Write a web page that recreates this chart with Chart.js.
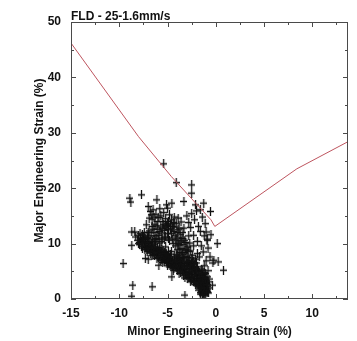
<!DOCTYPE html>
<html>
<head>
<meta charset="utf-8">
<script src="https://cdn.jsdelivr.net/npm/chart.js@4/dist/chart.umd.min.js"></script>
<style>
  html, body { margin: 0; padding: 0; background: #fff; }
  #wrap { width: 357px; height: 341px; }
</style>
</head>
<body>
<div id="wrap"><canvas id="c" width="357" height="341"></canvas></div>
<script>
// Forming limit curve (minor / major engineering strain, %)
const fldMinor = [-15, -8.0, -4.6, -0.5, -0.1, 8.4, 13.7];
const fldMajor = [46.2, 29.3, 22.1, 14.3, 13.1, 23.5, 28.4];

// Measured grid strains as [minor, major] pairs, grouped by region of the cloud
const lowerBand = [
  [-8.3,11.2],[-8.1,10.6],[-8.0,11.5],[-7.9,10.2],[-7.8,11.0],[-7.7,10.4],[-7.6,9.8],[-7.5,10.8],[-7.4,9.6],[-7.3,10.3],
  [-7.2,9.3],[-7.1,10.0],[-7.0,9.7],[-6.9,8.9],[-6.8,9.5],[-6.7,10.1],[-6.6,8.7],[-6.5,9.2],[-6.4,8.4],[-6.3,9.0],
  [-6.2,8.1],[-6.1,8.8],[-6.0,7.9],[-5.9,8.6],[-5.8,7.6],[-5.7,8.3],[-5.6,9.0],[-5.5,7.4],[-5.4,8.0],[-5.3,7.1],
  [-5.2,7.8],[-5.1,6.9],[-5.0,7.5],[-4.9,6.6],[-4.8,7.3],[-4.7,8.1],[-4.6,6.4],[-4.5,7.0],[-4.4,6.1],[-4.3,6.8],
  [-4.2,5.8],[-4.1,6.5],[-4.0,5.5],[-3.9,6.2],[-3.8,7.0],[-3.7,5.3],[-3.6,5.9],[-3.5,4.9],[-3.4,5.6],[-3.3,4.6],
  [-3.2,5.3],[-3.1,6.1],[-3.0,4.3],[-2.9,5.0],[-2.8,3.9],[-2.7,4.7],[-2.6,5.5],[-2.5,3.6],[-2.4,4.4],[-2.3,3.2],
  [-2.2,4.0],[-2.1,4.9],[-2.0,2.9],[-1.9,3.7],[-1.8,2.6],[-1.7,3.4],[-1.6,4.3],[-1.5,2.2],[-1.4,3.0],[-1.3,1.8],
  [-1.2,2.6],[-1.1,3.5],[-1.0,1.5],[-0.9,2.3],[-0.8,3.1],[-0.7,2.0],[-1.25,0.8],[-1.3,1.2],
  [-7.9,9.8],[-7.6,10.9],[-7.3,9.5],[-7.0,10.4],[-6.8,8.6],[-6.5,8.0],[-6.3,9.8],[-6.0,8.5],[-5.8,9.2],[-5.6,7.2],
  [-5.3,8.4],[-5.1,7.6],[-4.9,8.6],[-4.7,6.9],[-4.5,5.9],[-4.3,7.6],[-4.1,5.6],[-3.9,7.4],[-3.7,6.4],[-3.5,5.6],
  [-3.3,7.2],[-3.1,4.8],[-2.9,6.4],[-2.7,3.8],[-2.5,5.0],[-2.4,6.3],[-2.2,3.4],[-2.0,4.5],[-1.9,5.8],[-1.8,3.1],
  [-1.6,2.7],[-1.5,3.8],[-1.4,5.1],[-1.3,2.4],[-1.2,3.9],[-1.1,1.6],[-1.0,2.8],[-0.9,4.0],[-0.85,1.4],[-1.5,1.6],
  [-1.7,2.0],[-2.1,2.6],[-2.6,3.1],[-3.2,3.8],[-3.8,4.6],[-4.4,5.2],[-5.0,6.0],[-5.5,6.6],[-6.1,7.3],[-6.6,7.9],
  [-7.1,8.6],[-7.6,9.2],
  [-8.0,10.0],[-7.85,11.8],[-7.7,9.5],[-7.55,10.5],[-7.45,11.2],[-7.35,8.9],[-7.25,10.7],[-7.15,9.0],[-7.05,10.9],[-6.95,9.2],
  [-6.85,10.2],[-6.75,8.3],[-6.65,9.6],[-6.55,10.4],[-6.45,8.6],[-6.35,7.9],[-6.25,9.4],[-6.15,8.4],[-6.05,9.3],[-5.95,7.5],
  [-5.85,8.9],[-5.75,7.0],[-5.65,8.6],[-5.55,7.9],[-5.45,8.7],[-5.35,6.8],[-5.25,7.4],[-5.15,8.2],[-5.05,6.4],[-4.95,7.9],
  [-4.85,7.0],[-4.75,6.1],[-4.65,7.6],[-4.55,5.7],[-4.45,6.6],[-4.35,5.5],[-4.25,7.2],[-4.15,6.0],[-4.05,6.9],[-3.95,5.1],
  [-3.85,5.8],[-3.75,6.6],[-3.65,4.7],[-3.55,6.3],[-3.45,5.2],[-3.35,4.2],[-3.25,5.9],[-3.15,4.5],[-3.05,5.5],[-2.95,3.7],
  [-2.85,4.6],[-2.75,5.9],[-2.65,4.1],[-2.55,3.3],[-2.45,4.9],[-2.35,3.7],[-2.25,5.2],[-2.15,3.0],[-2.05,4.1],[-1.95,2.5],
  [-1.85,4.4],[-1.75,3.0],[-1.65,2.3],[-1.55,3.5],[-1.45,2.7],[-1.35,3.6],[-1.25,1.5],[-1.15,2.9],[-1.05,2.0],[-0.95,3.0],
  [-0.9,1.2],[-1.2,4.8],[-1.4,4.2],[-1.8,5.0],[-2.3,5.9],[-2.8,6.6],[-3.4,7.4],[-4.0,7.8],[-4.6,8.6],[-5.2,9.4],
  [-5.8,10.1],[-6.4,10.7],[-7.0,11.4],[-7.6,11.6]
];

const steepColumn = [
  [-4.8,15.2],[-4.6,14.3],[-4.5,13.1],[-4.4,12.2],[-4.3,14.8],[-4.2,11.4],[-4.1,13.6],[-4.0,10.6],[-3.9,12.5],[-3.8,9.8],
  [-3.7,11.7],[-3.6,13.9],[-3.5,9.1],[-3.4,10.9],[-3.3,12.8],[-3.2,8.4],[-3.1,10.2],[-3.0,7.7],[-2.9,9.4],[-2.8,11.4],
  [-2.7,7.0],[-2.6,8.7],[-2.5,6.4],[-2.4,7.9],[-2.3,9.6],[-2.2,5.8],[-2.1,7.2],[-2.0,6.5],[-1.9,8.2],[-1.8,5.2],
  [-4.6,11.8],[-4.2,9.6],[-3.8,8.4],[-3.5,7.5],[-3.9,14.6],[-3.4,12.0],[-3.0,9.0],[-2.7,10.1],[-3.6,10.3],[-4.0,8.9],
  [-3.3,6.8],[-2.9,6.0],[-2.4,5.4],[-4.7,12.7],[-5.0,13.6],[-5.2,14.5],[-4.9,11.0],[-4.4,10.0],[-4.1,8.0],[-3.7,7.2],
  [-4.3,13.0],[-4.1,11.0],[-3.9,10.0],[-3.7,9.0],[-3.5,8.3],[-3.3,9.8],[-3.1,8.8],[-2.9,7.5],[-2.7,6.3],[-2.5,7.4],
  [-2.3,6.8],[-4.5,10.8],[-4.0,12.0],[-3.6,11.0],[-3.2,10.6],[-2.8,8.6],[-2.6,6.0],[-4.4,13.8],[-3.8,12.8],[-3.4,8.0],
  [-3.0,6.9],[-2.2,6.2],[-2.0,5.4]
];

const upperCloud = [
  [-7.0,16.7],[-6.8,15.8],[-6.6,14.4],[-6.5,16.1],[-6.3,13.5],[-6.2,15.3],[-6.0,12.6],[-5.9,14.7],[-5.8,16.3],[-5.7,13.0],
  [-5.6,11.9],[-5.5,14.0],[-5.4,15.6],[-5.3,12.4],[-5.2,11.2],[-5.1,13.3],[-5.0,16.4],[-4.9,12.5],[-4.8,10.6],[-6.9,12.3],
  [-6.7,11.4],[-6.4,12.0],[-6.1,10.9],[-5.9,11.5],[-5.6,10.4],[-5.3,10.8],[-7.2,13.4],[-7.4,12.0],[-7.1,11.1],[-6.3,10.4],
  [-6.0,14.0],[-5.7,15.0],[-5.4,13.4],[-6.6,13.1],[-6.9,14.6],
  [-6.4,14.8],[-6.1,13.2],[-5.8,12.2],[-5.5,12.7],[-5.2,13.0],[-4.9,14.0],[-6.7,15.2],[-6.2,11.4],[-5.9,10.8],[-5.5,11.0],
  [-5.0,11.8],[-4.7,13.4],[-7.0,12.0],[-6.5,12.6]
];

const nearPlane = [
  [-2.5,15.4],[-2.2,14.3],[-2.0,15.9],[-1.8,13.1],[-1.6,12.2],[-1.4,14.8],[-1.2,11.4],[-1.1,13.6],[-0.9,10.8],[-1.5,9.6],
  [-1.3,8.5],[-0.8,9.2],[-0.6,7.6],[-1.0,6.9],[-0.5,11.6],[-2.6,12.9],[-2.3,11.5],[-1.9,10.4],[-1.7,7.6],[-2.8,13.8],
  [-3.0,15.0],[-1.6,16.1],[-0.3,6.5],
  [-1.6,1.2],[-1.4,1.9],[-1.2,1.0],[-1.1,2.2],[-1.0,3.3],[-0.9,1.8],[-1.3,4.4],[-1.7,4.7],[-1.5,5.4],[-1.2,6.0],
  [-0.8,5.1],[-0.7,3.6],[-0.75,1.1],[-1.05,4.6],
  [-1.6,0.9],[-1.45,1.4],[-1.35,0.9],[-1.15,1.3],[-1.05,0.7],[-0.95,1.5],[-1.25,2.0],[-1.55,2.0],[-1.75,1.6],[-0.85,2.6],
  [-1.1,3.8]
];

const outliers = [
  [-4.1,21.0],[-2.5,20.6],[-2.5,19.1],[-8.9,18.2],[-8.8,17.5],[-7.7,18.8],[-6.1,17.9],[-3.3,17.6],[-2.1,17.0],[-1.25,17.3],
  [-0.55,15.8],[-4.55,17.3],[-5.1,17.0],[-8.7,12.1],[-8.4,12.1],[-8.7,9.7],[-9.6,6.4],[-8.6,2.5],[-8.7,0.5],[-6.6,2.2],
  [-4.55,4.0],[-3.2,0.7],[0.8,5.2],[0.25,6.7],[-0.2,7.0],[0.15,10.0],[-0.9,10.6],[-1.0,12.1],[-7.3,7.3],[-7.0,7.2],
  [-5.9,6.1],[-0.35,2.5],[-5.4,24.4],[-1.4,0.7]
];

const xTickValues = [-15, -10, -5, 0, 5, 10];
const yTickValues = [0, 10, 20, 30, 40, 50];
const chartTitle = 'FLD - 25-1.6mm/s';
const xTitle = 'Minor Engineering Strain (%)';
const yTitle = 'Major Engineering Strain (%)';

const labelFont = { family: 'Liberation Sans, Arial, sans-serif', size: 12, weight: 'bold' };

// "+" marker, a little taller than wide
const plusMarker = (() => {
  const c = document.createElement('canvas');
  c.width = 7; c.height = 9;
  const g = c.getContext('2d');
  g.strokeStyle = '#111';
  g.lineWidth = 1.3;
  g.beginPath();
  g.moveTo(3.5, 0); g.lineTo(3.5, 9);
  g.moveTo(0, 4.5); g.lineTo(7, 4.5);
  g.stroke();
  return c;
})();

// Plot frame, inward tick marks and the heading above the frame
const framePlugin = {
  id: 'framePlugin',
  afterDraw(chart) {
    const { ctx, chartArea: a, scales: { x, y } } = chart;
    ctx.save();
    ctx.strokeStyle = '#4a4a4a';
    ctx.lineWidth = 1;
    ctx.strokeRect(Math.round(a.left) + 0.5, Math.round(a.top) + 0.5,
                   Math.round(a.width) - 1, Math.round(a.height) - 1);
    ctx.beginPath();
    for (let v = -15; v <= 12.5; v += 2.5) {
      const px = Math.round(x.getPixelForValue(v)) + 0.5;
      const len = (v % 5 === 0) ? 5 : 3;
      ctx.moveTo(px, a.bottom); ctx.lineTo(px, a.bottom - len);
      ctx.moveTo(px, a.top); ctx.lineTo(px, a.top + len);
    }
    for (let v = 0; v <= 50; v += 5) {
      const py = Math.round(y.getPixelForValue(v)) + 0.5;
      const len = (v % 10 === 0) ? 5 : 3;
      ctx.moveTo(a.left, py); ctx.lineTo(a.left + len, py);
      ctx.moveTo(a.right, py); ctx.lineTo(a.right - len, py);
    }
    ctx.stroke();
    ctx.fillStyle = '#111';
    ctx.font = 'bold 12px "Liberation Sans", Arial, sans-serif';
    ctx.textAlign = 'left';
    ctx.textBaseline = 'alphabetic';
    ctx.fillText(chartTitle, a.left, a.top - 2);
    ctx.restore();
  }
};

const strainPoints = [...lowerBand, ...steepColumn, ...upperCloud, ...nearPlane, ...outliers];

new Chart(document.getElementById('c'), {
  type: 'scatter',
  data: {
    datasets: [
      {
        label: 'Strain',
        data: strainPoints.map(([mi, ma]) => ({ x: mi, y: ma })),
        pointStyle: plusMarker,
        pointRadius: 4,
        showLine: false,
        order: 2
      },
      {
        label: 'FLD',
        data: fldMinor.map((v, i) => ({ x: v, y: fldMajor[i] })),
        showLine: true,
        borderColor: 'rgb(190, 85, 95)',
        borderWidth: 1,
        pointRadius: 0,
        tension: 0,
        order: 1
      }
    ]
  },
  options: {
    responsive: false,
    animation: false,
    layout: { padding: { left: 28, right: 9, top: 22, bottom: 0 } },
    plugins: {
      legend: { display: false },
      tooltip: { enabled: false },
      title: { display: false }
    },
    scales: {
      x: {
        type: 'linear',
        min: -15,
        max: 13.7,
        afterBuildTicks: s => { s.ticks = xTickValues.map(v => ({ value: v })); },
        afterFit: s => { s.height = 42; },
        grid: { display: false, drawTicks: false },
        border: { display: false },
        ticks: { color: '#111', font: labelFont, padding: 7, maxRotation: 0 },
        title: { display: true, text: xTitle, color: '#111', font: labelFont, padding: { top: 4, bottom: 2 } }
      },
      y: {
        type: 'linear',
        min: 0,
        max: 50,
        afterBuildTicks: s => { s.ticks = yTickValues.map(v => ({ value: v })); },
        afterFit: s => { s.width = 43; },
        grid: { display: false, drawTicks: false },
        border: { display: false },
        ticks: { color: '#111', font: labelFont, padding: 10 },
        title: { display: true, text: yTitle, color: '#111', font: labelFont, padding: { top: 4, bottom: 4 } }
      }
    }
  },
  plugins: [framePlugin]
});
</script>
</body>
</html>
